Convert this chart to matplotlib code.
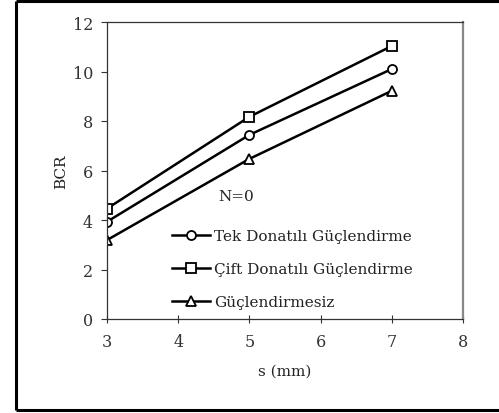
import matplotlib
matplotlib.use("Agg")
import matplotlib.pyplot as plt
from matplotlib.lines import Line2D

plt.rcParams['font.family'] = ['DejaVu Serif']

s_mm = [3, 5, 7]
tek = [3.93, 7.44, 10.1]
cift = [4.46, 8.17, 11.03]
guclendirmesiz = [3.19, 6.47, 9.22]
labels = ["Tek Donatılı Güçlendirme", "Çift Donatılı Güçlendirme", "Güçlendirmesiz"]
xticks = [3, 4, 5, 6, 7, 8]
yticks = [0, 2, 4, 6, 8, 10, 12]

fig = plt.figure(figsize=(4.99, 4.14), dpi=100)
ax = fig.add_axes([107/499, 1-320/414, (463-107)/499, (320-23)/414])

kw = dict(color='black', lw=1.8, markerfacecolor='white', markeredgecolor='black',
          markeredgewidth=1.3, markersize=6.5)
ax.plot(s_mm, tek, marker='o', label=labels[0], **kw)
ax.plot(s_mm, cift, marker='s', label=labels[1], **kw)
ax.plot(s_mm, guclendirmesiz, marker='^', label=labels[2], **kw)

ax.set_xlim(3, 8)
ax.set_ylim(0, 12)
ax.set_xticks(xticks)
ax.set_yticks(yticks)
ax.tick_params(axis='x', direction='inout', length=6, width=0.8, labelsize=11.5, colors='#333333', pad=7)
ax.tick_params(axis='y', direction='out', length=4, width=0.8, labelsize=11.5, colors='#333333', pad=6)
for sp in ['left', 'bottom']:
    ax.spines[sp].set_color('#333333')
    ax.spines[sp].set_linewidth(0.9)
ax.spines['top'].set_color('#333333')
ax.spines['top'].set_linewidth(0.9)
ax.spines['right'].set_color('#888888')
ax.spines['right'].set_linewidth(1.6)

ax.set_xlabel("s (mm)", fontsize=11, color='#222222', labelpad=10)
ax.set_ylabel("BCR", fontsize=11, color='#222222', labelpad=3)

ax.text(4.56, 4.97, "N=0", fontsize=11, color='#222222', ha='left', va='center')
ax.legend(loc='upper left', bbox_to_anchor=(0.183, 0.303), frameon=False, fontsize=11,
          handlelength=2.5, handletextpad=0.25, labelspacing=1.25, borderaxespad=0,
          borderpad=0, labelcolor='#222222')

# outer frame (top, left, bottom; right side is cut off in the original)
x0, y0, y1 = 15.5/499, 1-410.5/414, 1-1.5/414
for xs, ys in [([x0, 1.0], [y1, y1]), ([x0, x0], [y0, y1]), ([x0, 1.0], [y0, y0])]:
    fig.add_artist(Line2D(xs, ys, transform=fig.transFigure, color='black', lw=2.2,
                          solid_capstyle='butt'))

fig.savefig("out.png", dpi=100)
